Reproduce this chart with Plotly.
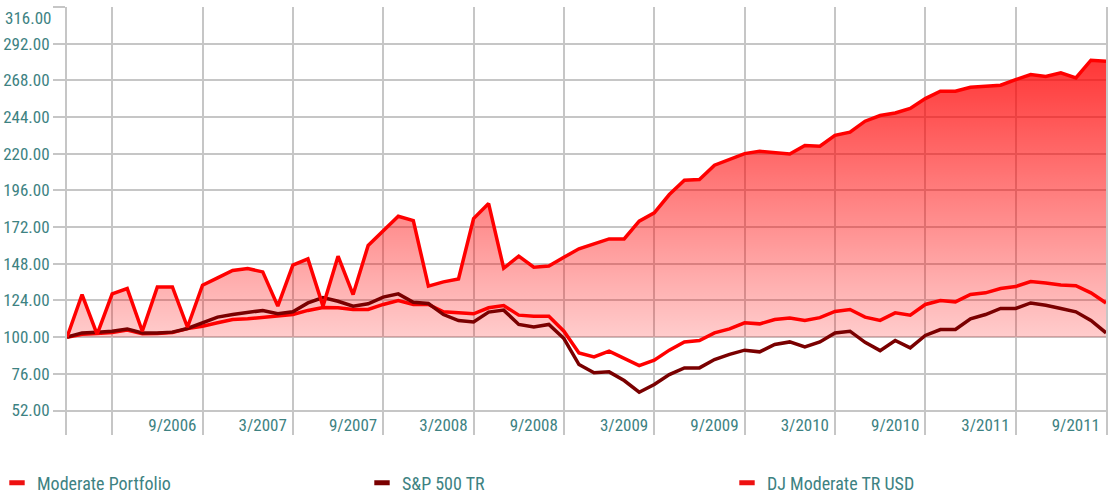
import plotly.graph_objects as go

months = ["12/2005"] + [f"{m}/{y}" for y in range(2006, 2012) for m in range(1, 13)][:69]

moderate_portfolio = [
    100.0, 127.9, 101.8, 128.3, 131.8, 103.9, 132.9, 132.9, 106.5, 134.0,
    138.8, 143.6, 144.9, 142.7, 120.3, 147.1, 151.2, 120.3, 153.0, 127.9,
    160.0, 169.3, 179.1, 176.3, 133.4, 136.2, 138.1, 177.6, 187.4, 145.1,
    153.0, 145.8, 146.5, 152.3, 157.8, 161.0, 164.3, 164.3, 175.9, 181.3,
    193.3, 202.7, 203.1, 212.5, 216.2, 220.1, 221.6, 220.7, 219.8, 225.4,
    224.9, 232.0, 234.1, 241.3, 245.0, 246.7, 249.6, 256.1, 260.9, 260.9,
    263.5, 264.2, 264.8, 268.5, 271.8, 270.5, 272.9, 269.6, 281.2, 280.5,
]
sp500_tr = [
    100.0, 102.8, 103.3, 103.9, 105.4, 102.8, 102.8, 103.3, 105.7, 109.4,
    113.1, 114.8, 115.9, 117.5, 115.3, 116.6, 122.4, 125.9, 123.5, 120.3,
    121.8, 126.2, 128.3, 122.9, 122.0, 114.8, 110.9, 110.0, 116.4, 117.7,
    108.3, 106.7, 108.3, 99.1, 82.1, 76.7, 77.3, 71.6, 64.0, 69.0,
    75.5, 79.9, 79.9, 85.4, 88.7, 91.5, 90.4, 95.2, 96.9, 93.7,
    96.9, 102.8, 103.9, 96.6, 91.2, 97.8, 93.0, 101.1, 105.0, 105.0,
    112.0, 114.8, 118.8, 118.8, 122.4, 120.9, 118.8, 116.6, 110.9, 102.8,
]
dj_moderate_tr_usd = [
    100.0, 101.9, 102.4, 103.0, 104.6, 102.3, 102.4, 103.0, 105.6, 107.2,
    109.4, 111.6, 112.0, 113.1, 114.2, 114.8, 117.5, 119.4, 119.2, 118.1,
    118.1, 121.4, 124.0, 121.4, 121.4, 116.6, 115.9, 115.3, 119.2, 120.7,
    114.4, 113.7, 113.7, 103.9, 89.7, 87.1, 90.8, 86.0, 81.4, 85.0,
    91.5, 96.9, 97.8, 102.8, 105.4, 109.4, 108.7, 111.5, 112.6, 111.0,
    112.8, 116.8, 118.1, 113.1, 111.0, 115.9, 114.4, 121.4, 124.0, 123.1,
    127.9, 129.0, 131.8, 133.1, 136.4, 135.5, 134.2, 133.7, 129.0, 122.4,
]
baseline_value = 100.0

y_tick_values = [52, 76, 100, 124, 148, 172, 196, 220, 244, 268, 292, 316]
y_tick_labels = [f"{v:.2f}" for v in y_tick_values]
x_tick_labels = ["12/2005", "3/2006", "9/2006", "3/2007", "9/2007", "3/2008", "9/2008",
                 "3/2009", "9/2009", "3/2010", "9/2010", "3/2011", "9/2011"]
x_tick_shown = ["", "", "9/2006", "3/2007", "9/2007", "3/2008", "9/2008",
                "3/2009", "9/2009", "3/2010", "9/2010", "3/2011", "9/2011"]

series_names = ["Moderate Portfolio", "S&P 500 TR", "DJ Moderate TR USD"]
series_colors = ["#ff0000", "#7a0000", "#ff0000"]
legend_colors = ["#ee1111", "#7a0000", "#ee1111"]

idx = list(range(len(months)))
x_tick_pos = [months.index(m) for m in x_tick_labels]

FONT = "Liberation Sans Narrow, Arial Narrow, Roboto Condensed, Liberation Sans, sans-serif"
TEXT = "#3d8282"
GRID = "#c6c6c6"

W, H = 1114, 493
ML, MR, MT, MB = 67, 8, 7, 58
PW, PH = W - ML - MR, H - MT - MB

fig = go.Figure()

fig.add_trace(go.Scatter(x=idx, y=[baseline_value] * len(idx), mode="lines",
                         line=dict(width=0), hoverinfo="skip", showlegend=False))
fig.add_trace(go.Scatter(
    x=idx, y=moderate_portfolio, mode="lines", line=dict(width=0),
    fill="tonexty",
    fillgradient=dict(type="vertical", start=100, stop=285,
                      colorscale=[[0, "rgba(255,0,0,0.20)"], [1, "rgba(255,0,0,0.80)"]]),
    hoverinfo="skip", showlegend=False))

fig.add_trace(go.Scatter(x=idx, y=dj_moderate_tr_usd, mode="lines", name=series_names[2],
                         line=dict(color=series_colors[2], width=3.5), showlegend=False))
fig.add_trace(go.Scatter(x=idx, y=sp500_tr, mode="lines", name=series_names[1],
                         line=dict(color=series_colors[1], width=3.5), showlegend=False))
fig.add_trace(go.Scatter(x=idx, y=moderate_portfolio, mode="lines", name=series_names[0],
                         line=dict(color=series_colors[0], width=3.5), showlegend=False))

for name, col in zip(series_names, legend_colors):
    fig.add_trace(go.Scatter(x=[None], y=[None], mode="markers", name=name,
                             marker=dict(symbol="line-ew", size=11,
                                         line=dict(color=col, width=5))))

fig.update_layout(
    width=W, height=H,
    margin=dict(l=ML, r=MR, t=MT, b=MB, autoexpand=False),
    paper_bgcolor="white", plot_bgcolor="white",
    font=dict(family=FONT, size=17, color=TEXT),
    showlegend=True,
    legend=dict(orientation="h", traceorder="normal",
                x=-(ML + 3) / PW, xanchor="left",
                y=-(483 - (MT + PH)) / PH, yanchor="middle",
                entrywidth=320, entrywidthmode="pixels",
                font=dict(family=FONT, size=18, color=TEXT),
                bgcolor="rgba(0,0,0,0)", itemclick=False, itemdoubleclick=False),
    xaxis=dict(range=[0, len(idx) - 1], tickmode="array", tickvals=x_tick_pos,
               ticktext=x_tick_shown, showgrid=True, gridcolor=GRID, gridwidth=2,
               ticks="", ticklabelposition="inside left", ticklabelshift=-6,
               ticklabelstandoff=-5,
               ticklabeloverflow="allow", zeroline=False, automargin=False,
               showline=False, tickfont=dict(family=FONT, size=17, color=TEXT)),
    yaxis=dict(range=[36, 316], tickmode="array", tickvals=y_tick_values,
               ticktext=y_tick_labels[:-1] + [""], showgrid=True, gridcolor=GRID,
               gridwidth=2, ticks="outside", ticklen=12, tickwidth=2, tickcolor=GRID,
               showline=True, linecolor=GRID, linewidth=2, mirror=True, automargin=False,
               zeroline=False, tickfont=dict(family=FONT, size=17, color=TEXT)),
    annotations=[dict(text=y_tick_labels[-1], xref="paper", yref="y", x=0, y=316,
                      xanchor="right", yanchor="top", xshift=-14, yshift=1,
                      showarrow=False, font=dict(family=FONT, size=17, color=TEXT))],
)

fig.write_html("out.html", config={"displayModeBar": False},
               post_script="document.body.style.margin='0';")
